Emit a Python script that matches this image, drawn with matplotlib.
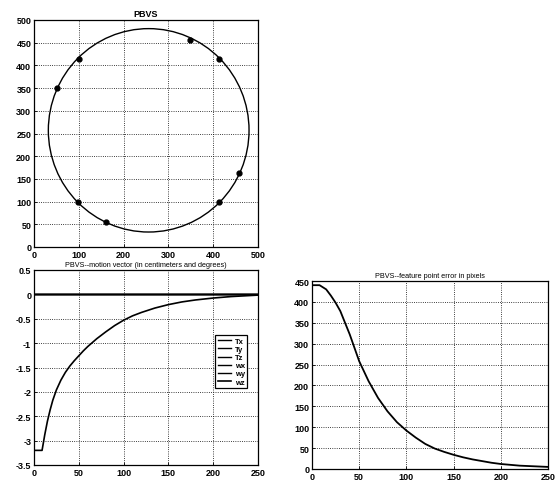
import numpy as np
import matplotlib
matplotlib.use('Agg')
import matplotlib.pyplot as plt
from matplotlib.patches import Circle

# feature trajectory (image plane, pixels)
circle_center = (256, 257)
circle_radius = 224
pts_x = [100, 52, 349, 413, 458, 413, 99, 160]
pts_y = [415, 350, 457, 415, 163, 100, 100, 55]

# motion vector (cm / deg) vs iteration
t_motion = [0, 9, 12, 15, 18, 21, 25, 30, 35, 40, 45, 50, 55, 60, 70, 80,
            90, 100, 110, 120, 135, 150, 165, 180, 200, 220, 250]
wz = [-3.2, -3.2, -2.88, -2.6, -2.37, -2.17, -1.96, -1.76, -1.6, -1.47,
      -1.36, -1.26, -1.16, -1.07, -0.91, -0.77, -0.64, -0.53, -0.44, -0.37,
      -0.28, -0.21, -0.155, -0.115, -0.075, -0.045, -0.015]
n = len(t_motion)
tx = [0.0] * n
ty = [0.0] * n
tz = [0.0] * n
wx = [0.0] * n
wy = [0.0] * n
motion_labels = ['Tx', 'Ty', 'Tz', 'wx', 'wy', 'wz']

# feature point error (pixels) vs iteration
t_err = [0, 8, 15, 20, 25, 30, 40, 50, 60, 70, 80, 90, 100, 110, 120, 130,
         140, 150, 160, 170, 180, 190, 200, 210, 220, 230, 240, 250]
err = [440, 440, 430, 415, 398, 378, 322, 258, 210, 170, 138, 112, 92, 75,
       60, 49, 41, 34, 28, 23, 19, 15, 12, 10, 8, 7, 6, 5]

plt.rcParams['font.family'] = ['Liberation Sans', 'DejaVu Sans']
plt.rcParams['font.weight'] = 'bold'

fig = plt.figure(figsize=(5.56, 4.85), dpi=100)
W, H = 556, 485


def make_axes(l, t, r, b):
    return fig.add_axes([l / W, 1 - b / H, (r - l) / W, (b - t) / H])


def style(ax):
    ax.grid(True, linestyle=':', color='black', linewidth=0.6)
    ax.tick_params(direction='in', length=2.5, labelsize=6.5, width=0.6, pad=2)
    for s in ax.spines.values():
        s.set_linewidth(0.9)
    for lab in ax.get_xticklabels() + ax.get_yticklabels():
        lab.set_fontweight('bold')


# top-left: trajectory
ax1 = make_axes(34, 21, 258, 248)
ax1.add_patch(Circle(circle_center, circle_radius, fill=False, color='black', linewidth=1.0))
ax1.plot(pts_x, pts_y, 'o', color='black', markersize=3.5)
ax1.set_xlim(0, 500)
ax1.set_ylim(0, 500)
ax1.set_xticks(np.arange(0, 501, 100))
ax1.set_yticks(np.arange(0, 501, 50))
ax1.set_title('PBVS', fontsize=6.5, fontweight='bold', pad=3)
style(ax1)

# bottom-left: motion vector
ax2 = make_axes(34, 271, 258, 466)
for ys in [tx, ty, tz, wx, wy]:
    ax2.plot(t_motion, ys, color='black', linewidth=1.0)
ax2.plot(t_motion, wz, color='black', linewidth=1.2)
ax2.set_xlim(0, 250)
ax2.set_ylim(-3.5, 0.5)
ax2.set_xticks(np.arange(0, 251, 50))
ax2.set_yticks(np.arange(-3.5, 0.51, 0.5))
ax2.set_yticklabels(['-3.5', '-3', '-2.5', '-2', '-1.5', '-1', '-0.5', '0', '0.5'])
ax2.set_title('PBVS--motion vector (in centimeters and degrees)', fontsize=5.2, pad=3)
leg = ax2.legend(motion_labels, loc='upper left', bbox_to_anchor=(0.81, 0.665),
                 fontsize=5.5, handlelength=1.8, borderpad=0.3, labelspacing=0.1,
                 handletextpad=0.4, fancybox=False, framealpha=1, edgecolor='black',
                 borderaxespad=0)
leg.get_frame().set_linewidth(0.9)
style(ax2)

# bottom-right: feature point error
ax3 = make_axes(312, 282, 548, 470)
ax3.plot(t_err, err, color='black', linewidth=1.3)
ax3.set_xlim(0, 250)
ax3.set_ylim(0, 450)
ax3.set_xticks(np.arange(0, 251, 50))
ax3.set_yticks(np.arange(0, 451, 50))
ax3.set_title('PBVS--feature point error in pixels', fontsize=5.2, pad=3)
style(ax3)

fig.savefig('out.png', dpi=100)
